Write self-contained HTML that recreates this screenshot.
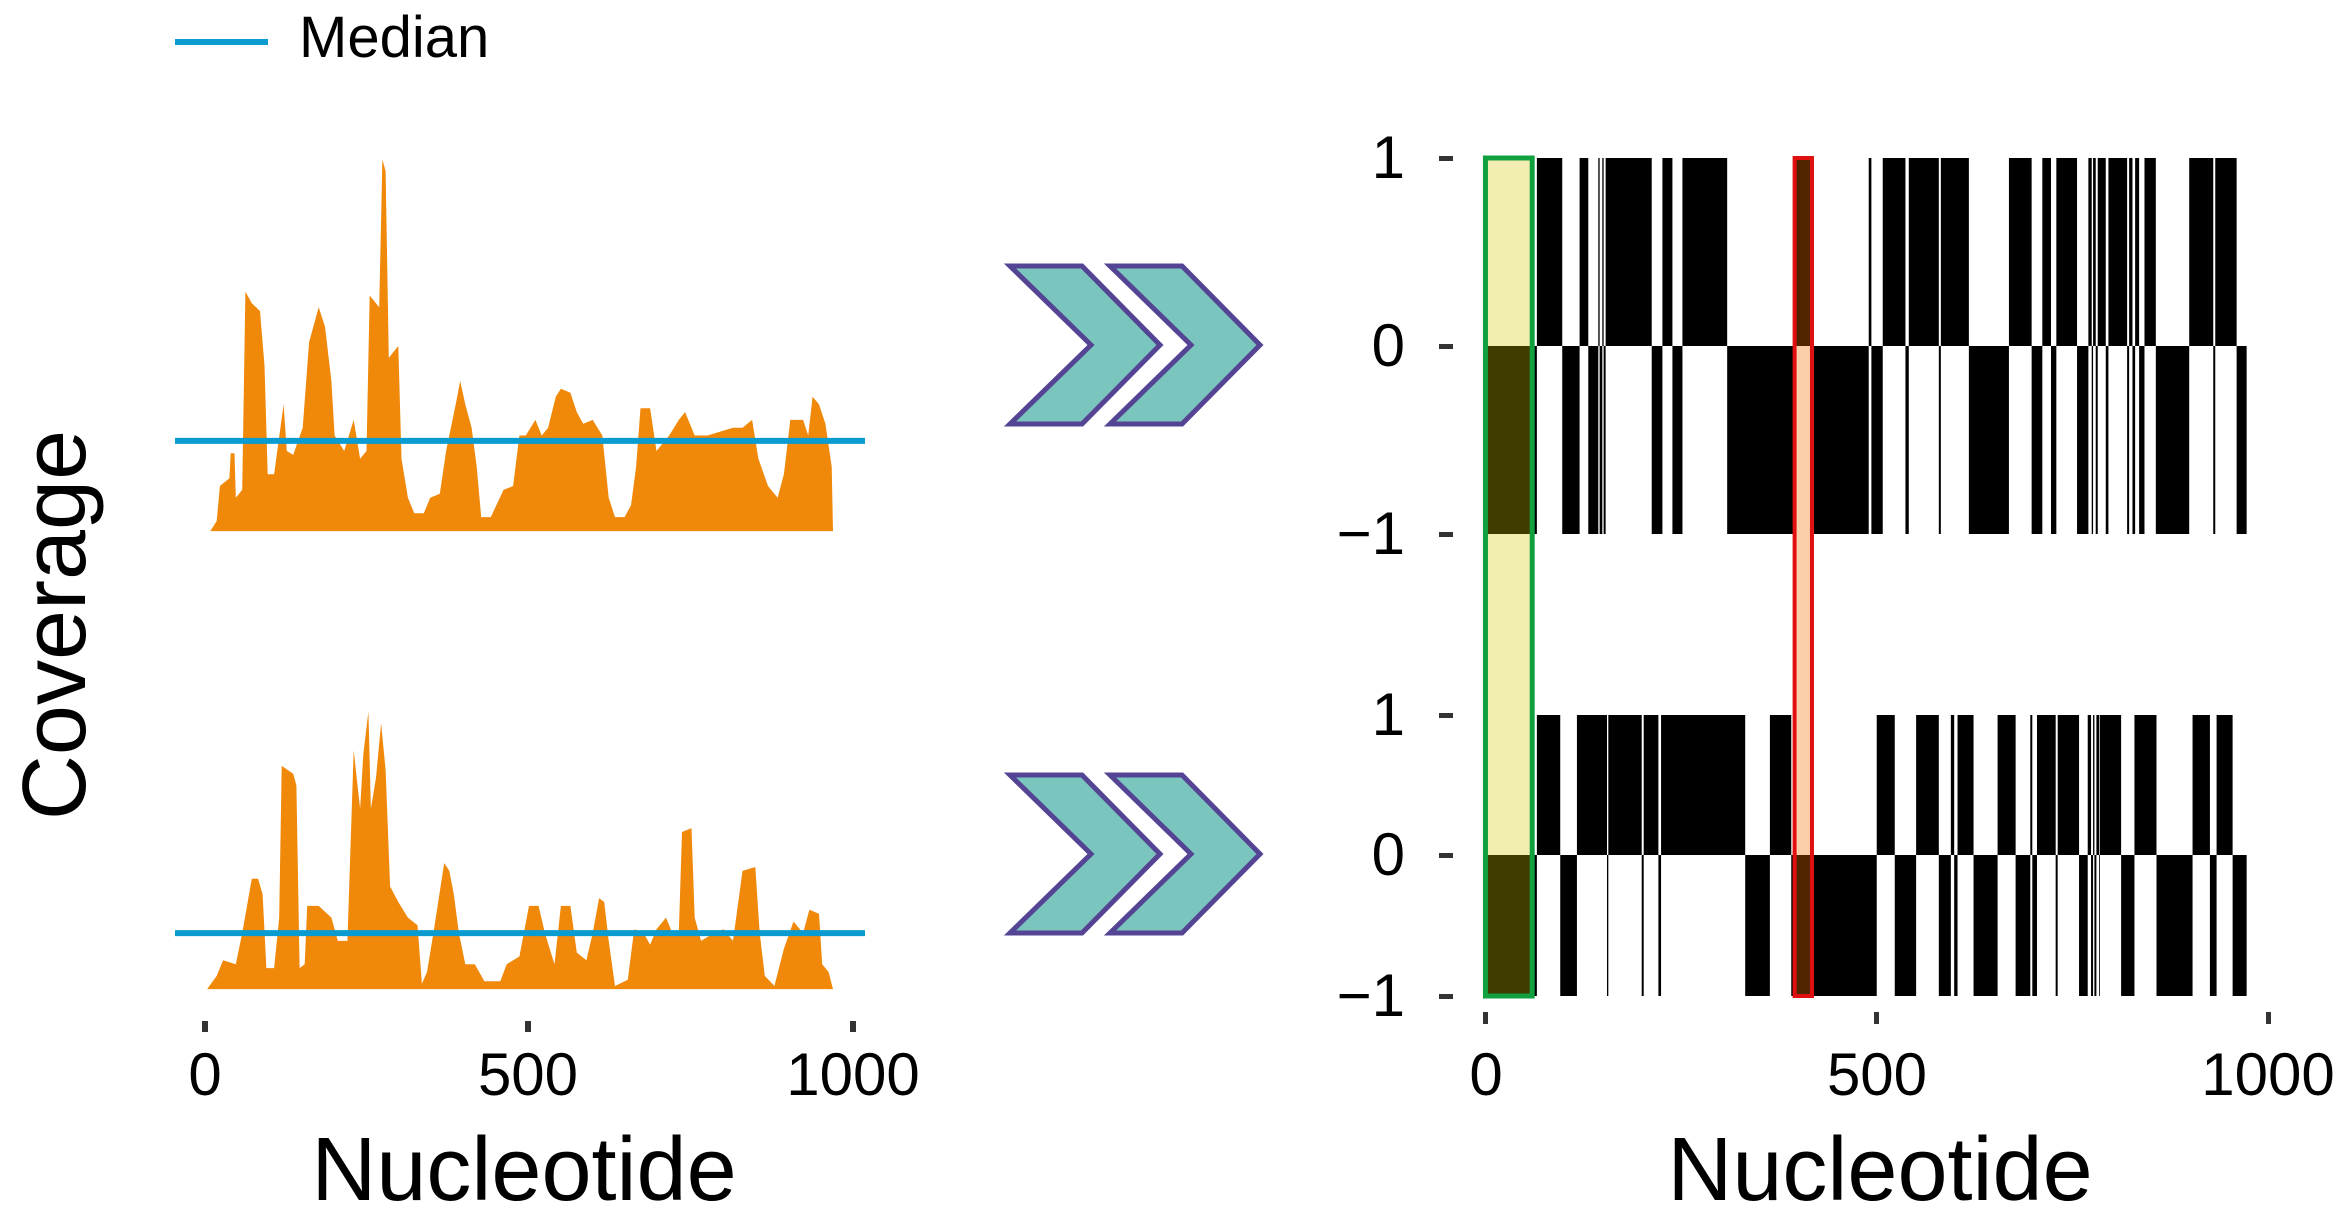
<!DOCTYPE html>
<html><head><meta charset="utf-8"><style>
html,body{margin:0;padding:0;background:#fff;}
svg{display:block;}
text{font-family:"Liberation Sans",sans-serif;fill:#000;}
</style></head><body>
<svg id="s" width="2346" height="1222" viewBox="0 0 2346 1222" xmlns="http://www.w3.org/2000/svg">
<g id="left"></g>
<g id="right"></g>
<!-- legend -->
<line x1="175" y1="42" x2="268" y2="42" stroke="#0a9bd0" stroke-width="6"/>
<text x="299" y="57" font-size="58">Median</text>
<!-- left axis ticks -->
<g fill="#333"><rect x="202" y="1021" width="6" height="11"/><rect x="525" y="1021" width="6" height="11"/><rect x="850" y="1021" width="6" height="11"/></g>
<text x="205" y="1095" font-size="60" text-anchor="middle">0</text>
<text x="528" y="1095" font-size="60" text-anchor="middle">500</text>
<text x="853" y="1095" font-size="60" text-anchor="middle">1000</text>
<text x="524" y="1200" font-size="90" text-anchor="middle">Nucleotide</text>
<text transform="translate(85,625) rotate(-90)" font-size="90" text-anchor="middle">Coverage</text>
<!-- chevrons -->
<g fill="#7bc5bf" stroke="#554494" stroke-width="5" stroke-linejoin="miter">
<polygon points="1010,266 1082,266 1160,345 1082,424 1010,424 1091,345"/>
<polygon points="1110,266 1182,266 1260,345 1182,424 1110,424 1191,345"/>
<polygon points="1010,775 1082,775 1160,854 1082,933 1010,933 1091,854"/>
<polygon points="1110,775 1182,775 1260,854 1182,933 1110,933 1191,854"/>
</g>
<!-- right axis -->
<g fill="#333">
<rect x="1439" y="156" width="14" height="5"/><rect x="1439" y="344" width="14" height="5"/><rect x="1439" y="532" width="14" height="5"/>
<rect x="1439" y="713" width="14" height="5"/><rect x="1439" y="853" width="14" height="5"/><rect x="1439" y="994" width="14" height="5"/>
<rect x="1483" y="1012" width="5" height="12"/><rect x="1874" y="1012" width="5" height="12"/><rect x="2266" y="1012" width="5" height="12"/>
</g>
<g font-size="60" text-anchor="end">
<text x="1405" y="178">1</text><text x="1405" y="366">0</text><text x="1405" y="554">−1</text>
<text x="1405" y="735">1</text><text x="1405" y="875">0</text><text x="1405" y="1016">−1</text>
</g>
<text x="1486" y="1095" font-size="60" text-anchor="middle">0</text>
<text x="1877" y="1095" font-size="60" text-anchor="middle">500</text>
<text x="2268" y="1095" font-size="60" text-anchor="middle">1000</text>
<text x="1880" y="1200" font-size="90" text-anchor="middle">Nucleotide</text>
<g id="over"></g>
</svg>
<script>
var NS="http://www.w3.org/2000/svg";
function el(p,t,a){var e=document.createElementNS(NS,t);for(var k in a)e.setAttribute(k,a[k]);p.appendChild(e);return e;}
var L=document.getElementById('left');
var XD=1.569, YD=1.286;
function cov(pts,base){
 var d="M"+(pts[0][0]/XD).toFixed(1)+","+(base/YD).toFixed(1);
 for(var i=0;i<pts.length;i++){d+=" L"+(pts[i][0]/XD).toFixed(1)+","+(pts[i][1]/YD).toFixed(1);}
 d+=" L"+(pts[pts.length-1][0]/XD).toFixed(1)+","+(base/YD).toFixed(1)+"Z";
 el(L,'path',{d:d,fill:"#f0880a"});
}
var top1=[[330,683],[340,670],[345,625],[360,615],[362,583],[368,583],[370,640],[380,630],[385,375],[395,390],[408,400],[415,470],[420,610],[430,610],[445,520],[450,580],[460,585],[475,550],[485,440],[500,395],[510,420],[520,490],[525,560],[540,580],[555,540],[565,590],[575,580],[580,380],[595,395],[600,205],[605,220],[610,460],[625,445],[630,590],[640,640],[650,660],[665,660],[675,640],[690,635],[700,580],[715,520],[722,490],[730,520],[740,550],[748,600],[755,665],[770,665],[790,630],[805,625],[815,560],[825,560],[840,540],[850,560],[860,550],[872,510],[880,500],[895,505],[905,530],[915,545],[930,540],[945,560],[955,640],[965,665],[980,665],[990,650],[998,600],[1005,525],[1020,525],[1030,580],[1040,570],[1050,560],[1065,540],[1075,530],[1090,560],[1110,560],[1130,555],[1150,550],[1165,550],[1180,540],[1190,590],[1205,625],[1220,640],[1230,610],[1240,540],[1260,540],[1268,560],[1275,510],[1285,520],[1295,545],[1305,600],[1307,683]];
var bot1=[[325,1272],[340,1255],[350,1235],[370,1240],[380,1200],[395,1130],[405,1130],[412,1150],[418,1245],[430,1245],[438,1180],[442,985],[460,995],[465,1010],[470,1245],[478,1240],[482,1165],[500,1165],[520,1180],[530,1210],[545,1210],[555,965],[565,1040],[570,970],[578,915],[582,1040],[590,1000],[598,930],[605,990],[612,1140],[625,1160],[640,1180],[655,1190],[662,1265],[670,1250],[680,1200],[697,1110],[705,1120],[712,1150],[720,1200],[730,1240],[745,1240],[760,1262],[785,1262],[795,1240],[815,1230],[830,1165],[845,1165],[855,1200],[870,1240],[880,1165],[895,1165],[905,1225],[920,1235],[930,1200],[940,1155],[948,1160],[955,1210],[965,1268],[985,1260],[995,1195],[1010,1200],[1020,1215],[1030,1195],[1045,1180],[1055,1200],[1065,1200],[1070,1070],[1085,1065],[1090,1180],[1100,1210],[1120,1200],[1135,1195],[1150,1210],[1165,1120],[1185,1115],[1192,1200],[1200,1255],[1215,1268],[1230,1220],[1245,1185],[1260,1200],[1270,1170],[1285,1175],[1290,1240],[1300,1250],[1307,1272]];
cov(top1,683);cov(bot1,1272);
el(L,'line',{x1:175,y1:(567/YD).toFixed(1),x2:865,y2:(567/YD).toFixed(1),stroke:"#0a9bd0","stroke-width":6});
el(L,'line',{x1:175,y1:(1200/YD).toFixed(1),x2:865,y2:(1200/YD).toFixed(1),stroke:"#0a9bd0","stroke-width":6});
var R=document.getElementById('right');
var B=0.6677;
function fx(z){return 1296.5+z*B;}
function bars(segs,y0,y1){segs.forEach(function(s){el(R,'rect',{x:fx(s[0]).toFixed(2),y:y0,width:Math.max(0.8,(s[1]-s[0])*B).toFixed(2),height:y1-y0,fill:"#000"});});}
function comp(up,a,b){var r=[],c=a;up.forEach(function(s){if(s[0]>c)r.push([c,s[0]]);c=Math.max(c,s[1]);});if(b>c)r.push([c,b]);return r;}
var tu=[[360,398],[424,437],[452,454],[458,460],[463,532],[548,563],[578,645],[745,775],[857,861],[878,912],[917,962],[965,1007],[1067,1101],[1117,1130],[1138,1169],[1186,1191],[1193,1197],[1200,1212],[1216,1244],[1247,1252],[1256,1262],[1270,1287],[1337,1373],[1376,1408]];
var bu=[[360,395],[420,465],[467,517],[520,542],[546,672],[709,741],[869,896],[928,962],[980,985],[990,1014],[1050,1077],[1099,1102],[1109,1137],[1140,1172],[1185,1190],[1193,1195],[1198,1202],[1203,1235],[1255,1288],[1342,1368],[1378,1402]];
bars(tu,158,346);bars([[283,360]].concat(comp(tu,360,1423)),346,534);
bars(bu,715,855);bars([[283,360]].concat(comp(bu,360,1423)),855,996);
var O=document.getElementById('over');
el(O,'rect',{x:fx(283),y:158,width:(353-283)*B,height:838,fill:"rgb(213,200,0)","fill-opacity":0.3,stroke:"#10a040","stroke-width":5});
el(O,'rect',{x:fx(746),y:158,width:(772-746)*B,height:838,fill:"rgb(245,110,0)","fill-opacity":0.33,stroke:"#e01010","stroke-width":4});
</script>
</body></html>
